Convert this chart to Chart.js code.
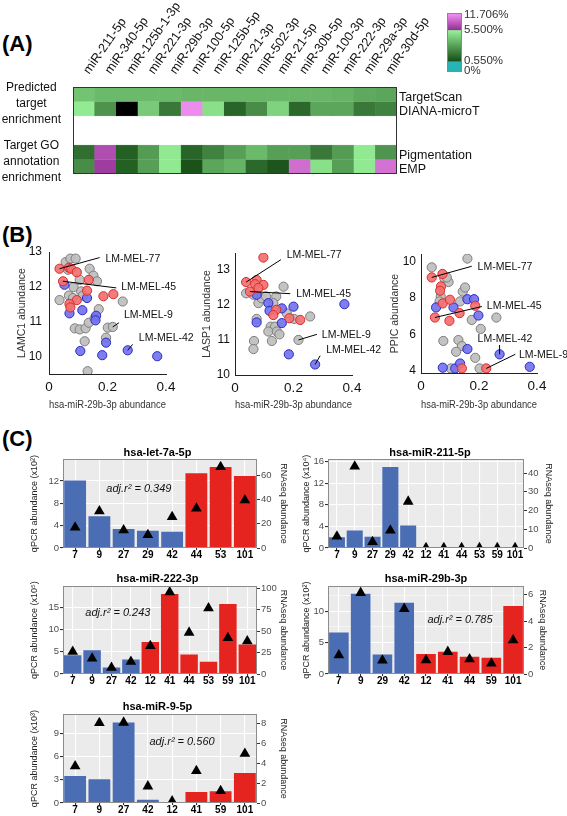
<!DOCTYPE html>
<html><head><meta charset="utf-8"><title>miRNA figure</title>
<script src="https://cdn.jsdelivr.net/npm/chart.js@4.4.1/dist/chart.umd.min.js"></script>
<style>
html,body{margin:0;padding:0;background:#fff;}
body{width:567px;height:816px;position:relative;overflow:hidden;font-family:"Liberation Sans",Arial,Helvetica,sans-serif;}
.panel{position:absolute;left:2px;font-weight:bold;font-size:22px;line-height:25px;color:#000;}
canvas{position:absolute;}
</style></head><body>
<div class="panel" style="top:31px">(A)</div>
<div class="panel" style="top:222px">(B)</div>
<div class="panel" style="top:426px">(C)</div>
<script>
const FF = '"Liberation Sans", Arial, Helvetica, sans-serif';
Chart.defaults.font.family = FF;
Chart.defaults.color = '#222';
Chart.defaults.animation = false;
Chart.defaults.plugins.legend.display = false;
Chart.defaults.plugins.tooltip.enabled = false;

// ================= DATA =================
// ---- Panel A: enrichment heatmap (percent) ----
const mirNames = ['miR-211-5p','miR-340-5p','miR-125b-1-3p','miR-221-3p','miR-29b-3p','miR-100-5p','miR-125b-5p','miR-21-3p','miR-502-3p','miR-21-5p','miR-30b-5p','miR-100-3p','miR-222-3p','miR-29a-3p','miR-30d-5p'];
const targetScanPct   = [4.1,3.8,3.8,3.8,3.8,3.7,3.7,3.7,3.7,3.7,3.7,3.7,3.6,3.3,3.2];
const dianaPct        = [5.35,2.6,null,4.3,1.8,11.1,5.0,1.2,2.4,4.6,1.3,3.2,3.2,1.8,2.1];
const pigmentationPct = [1.5,7.2,1.0,2.9,5.3,1.2,2.1,3.0,3.8,3.0,3.0,1.8,2.9,5.3,2.7];
const empPct          = [2.4,6.1,1.0,3.0,5.3,0.6,3.2,3.6,1.3,0.7,9.2,5.0,3.0,5.3,9.5];
const heatRowNames = ['TargetScan','DIANA-microT','Pigmentation','EMP'];
const heatGroupNames = [['Predicted','target','enrichment'],['Target GO','annotation','enrichment']];
const colorbarTickLabels = ['0%','0.550%','5.500%','11.706%'];

// ---- Panel B: scatter [miR-29b-3p, gene] ----
const xTicksB = [0,0.2,0.4];
const xTitleB = 'hsa-miR-29b-3p abundance';
const lamc1Red  = [[0.036,12.52],[0.068,12.55],[0.076,12.52],[0.095,12.42],[0.048,12.16],[0.136,12.20],[0.130,11.89],[0.186,11.73],[0.220,11.79],[0.095,11.62],[0.070,11.51],[0.073,11.41]];
const lamc1Blue = [[0.053,12.06],[0.130,11.68],[0.070,11.24],[0.114,11.33],[0.161,11.17],[0.159,11.04],[0.195,10.40],[0.107,10.16],[0.182,10.04],[0.269,10.18],[0.370,10.01]];
const lamc1Gray = [[0.057,12.71],[0.073,12.81],[0.091,12.81],[0.036,11.62],[0.068,11.75],[0.082,11.68],[0.084,11.99],[0.110,11.87],[0.116,11.75],[0.139,12.52],[0.152,12.32],[0.164,12.16],[0.170,11.36],[0.088,10.81],[0.105,10.78],[0.125,10.81],[0.136,10.97],[0.156,11.10],[0.201,10.83],[0.218,10.85],[0.122,10.44],[0.195,10.54],[0.132,9.58],[0.252,11.58],[0.065,12.49],[0.105,12.20]];
const lamc1Ticks = [10,11,12,13];
const lasp1Red  = [[0.097,13.35],[0.038,12.65],[0.074,12.71],[0.069,12.59],[0.097,12.57],[0.051,12.38],[0.080,12.48],[0.141,11.86],[0.131,11.71],[0.186,11.62],[0.223,11.57]];
const lasp1Blue = [[0.074,12.29],[0.114,12.05],[0.118,11.83],[0.160,11.90],[0.200,11.95],[0.074,11.50],[0.160,11.48],[0.184,10.59],[0.274,10.30],[0.374,12.02]];
const lasp1Gray = [[0.038,12.33],[0.063,12.29],[0.080,12.05],[0.091,12.19],[0.106,12.24],[0.141,12.24],[0.166,12.52],[0.131,12.05],[0.074,11.60],[0.122,11.38],[0.137,11.38],[0.114,11.24],[0.143,11.24],[0.152,11.16],[0.126,10.97],[0.065,10.97],[0.063,10.74],[0.217,11.00],[0.177,11.76],[0.202,11.60],[0.257,11.67]];
const lasp1Ticks = [10,11,12,13];
const ppicRed  = [[0.037,9.12],[0.074,9.31],[0.069,8.63],[0.066,8.39],[0.075,7.70],[0.100,7.90],[0.048,6.93],[0.098,6.75],[0.133,7.17],[0.187,7.57],[0.141,4.15],[0.225,4.15]];
const ppicBlue = [[0.052,7.48],[0.112,7.48],[0.160,7.93],[0.183,7.93],[0.198,7.04],[0.160,5.21],[0.271,4.92],[0.075,4.19],[0.118,4.15],[0.135,4.42],[0.375,4.24]];
const ppicGray = [[0.037,9.67],[0.080,9.09],[0.095,8.87],[0.089,9.12],[0.144,8.35],[0.152,8.57],[0.160,10.15],[0.068,8.08],[0.064,7.81],[0.135,7.81],[0.175,6.80],[0.206,6.31],[0.260,6.93],[0.077,5.65],[0.129,5.70],[0.141,5.37],[0.121,5.06],[0.187,4.73],[0.103,4.15],[0.202,4.15]];
const ppicTicks = [4,6,8,10];

// ---- Panel C: qPCR bars + RNAseq triangles ----
const let7aSamples = ['7','9','27','29','42','44','53','101'];
const let7aGroup   = [0,0,0,0,0,1,1,1];
const let7aQpcr    = [12.1,5.7,3.4,3.1,2.9,13.4,14.5,12.9];
const let7aRnaseq  = [17,30.4,14.7,10.8,25.7,32.6,67,39.5];
const let7aQpcrTicks = [0,4,8,12];
const let7aRnaTicks  = [0,20,40,60];

const mir211Samples = ['7','9','27','29','42','12','41','44','53','59','101'];
const mir211Group   = [0,0,0,0,0,1,1,1,1,1,1];
const mir211Qpcr    = [2.0,3.25,2.1,15.0,4.15,0,0,0,0,0,0];
const mir211Rnaseq  = [6.2,43.5,3.2,9.4,24.8,0,0,0,0,0,0];
const mir211QpcrTicks = [0,4,8,12,16];
const mir211RnaTicks  = [0,10,20,30,40];

const mir222Samples = ['7','9','27','42','12','41','44','53','59','101'];
const mir222Group   = [0,0,0,0,1,1,1,1,1,1];
const mir222Qpcr    = [4.25,5.37,1.49,3.28,7.24,18.06,4.4,2.76,15.8,6.64];
const mir222Rnaseq  = [25.9,18.1,7.3,14.3,32.8,95.4,48.3,76.8,42.1,38.2];
const mir222QpcrTicks = [0,5,10,15];
const mir222RnaTicks  = [0,25,50,75,100];

const mir29bSamples = ['7','9','29','42','12','41','44','59','101'];
const mir29bGroup   = [0,0,0,0,1,1,1,1,1];
const mir29bQpcr    = [6.61,12.8,3.12,11.38,3.17,3.54,2.75,2.59,10.85];
const mir29bRnaseq  = [1.43,6.15,1.03,4.94,1.05,1.68,1.13,0.80,2.56];
const mir29bQpcrTicks = [0,5,10];
const mir29bRnaTicks  = [0,2,4,6];

const mir9Samples = ['7','9','27','42','12','41','59','101'];
const mir9Group   = [0,0,0,0,1,1,1,1];
const mir9Qpcr    = [3.5,3.07,10.43,0.43,0,1.43,1.52,3.9];
const mir9Rnaseq  = [3.7,8.07,8.1,1.68,0.17,3.23,1.21,4.97];
const mir9QpcrTicks = [0,3,6,9];
const mir9RnaTicks  = [0,2,4,6,8];

// ================= HELPERS =================
function mk(left, top, w, h){
  const c = document.createElement('canvas');
  c.width = w; c.height = h;
  c.style.left = left + 'px'; c.style.top = top + 'px';
  c.style.width = w + 'px'; c.style.height = h + 'px';
  document.body.appendChild(c);
  return c;
}
function mixc(a,b,t){ return 'rgb(' + a.map((v,i)=>Math.round(v+(b[i]-v)*t)).join(',') + ')'; }
const C_TEAL=[40,180,180], C_DG=[25,80,25], C_LG=[150,240,150], C_PU=[150,50,150], C_PK=[245,150,245];
function heatColor(v){
  if (v === null) return '#000';
  if (v < 0.55) return mixc(C_TEAL,C_TEAL,0);
  if (v <= 5.5) return mixc(C_DG, C_LG, (v-0.55)/4.95);
  return mixc(C_PU, C_PK, Math.min(1,(v-5.5)/6.206));
}
function framePlugin(bg, stroke){
  return {
    id:'frame',
    beforeDraw(c){ if(!bg) return; const a=c.chartArea, x=c.ctx; x.save(); x.fillStyle=bg; x.fillRect(a.left,a.top,a.right-a.left,a.bottom-a.top); x.restore(); },
    afterDatasetsDraw(c){ if(!stroke) return; const a=c.chartArea, x=c.ctx; x.save(); x.strokeStyle=stroke; x.lineWidth=1; x.strokeRect(Math.round(a.left)+0.5,Math.round(a.top)+0.5,Math.round(a.right-a.left)-1,Math.round(a.bottom-a.top)-1); x.restore(); }
  };
}
function notesPlugin(items, font, align){
  return {
    id:'notes',
    afterDatasetsDraw(c){
      const x=c.ctx, sx=c.scales.x, sy=c.scales.y;
      x.save(); x.strokeStyle='#000'; x.lineWidth=1; x.fillStyle='#111'; x.font=font;
      x.textBaseline='middle'; x.textAlign=align||'left';
      items.forEach(n=>{
        if (n.from){ x.beginPath(); x.moveTo(sx.getPixelForValue(n.from[0]), sy.getPixelForValue(n.from[1])); x.lineTo(sx.getPixelForValue(n.to[0]), sy.getPixelForValue(n.to[1])); x.stroke(); }
        x.fillText(n.text, sx.getPixelForValue(n.at[0]), sy.getPixelForValue(n.at[1]));
      });
      x.restore();
    }
  };
}
const NOGRID = {display:false, drawTicks:false};

// ================= PANEL A: heatmap =================
(function(){
  const cv = mk(0,0,520,192);
  const rows = [targetScanPct, dianaPct, pigmentationPct, empPct];
  const rowSpans = [[5,6],[4,5],[1,2],[0,1]];
  const rowTickPos = [5.3,4.3,1.3,0.3];
  const groupTickPos = [4.86,0.86];
  new Chart(cv, {
    type:'bar',
    data:{ labels: mirNames, datasets: rows.map((vals,r)=>({
      data: vals.map(()=>rowSpans[r]),
      backgroundColor: vals.map(heatColor), borderColor: vals.map(heatColor),
      borderWidth:0.5, borderSkipped:false, grouped:false, barPercentage:1, categoryPercentage:1, yAxisID:'y'
    })) },
    options:{
      responsive:false, devicePixelRatio:1,
      layout:{padding:{left:0,right:0,top:0,bottom:18}},
      scales:{
        x:{ position:'top', grid:NOGRID, border:{display:false},
            ticks:{autoSkip:false, minRotation:55, maxRotation:55, font:{size:12.6}, color:'#111', padding:10, labelOffset:15},
            afterFit(s){ s.height=87; s.paddingLeft=0; s.paddingRight=0; } },
        y:{ position:'left', min:0, max:6, grid:NOGRID, border:{display:false},
            afterBuildTicks(s){ s.ticks=groupTickPos.map(v=>({value:v})); },
            ticks:{ callback:(v)=> heatGroupNames[groupTickPos.indexOf(v)], crossAlign:'center', font:{size:12, lineHeight:1.35}, color:'#111', padding:12 },
            afterFit(s){ s.width=73; s.paddingTop=0; s.paddingBottom=0; } },
        y2:{ position:'right', min:0, max:6, grid:NOGRID, border:{display:false},
            afterBuildTicks(s){ s.ticks=rowTickPos.map(v=>({value:v})); },
            ticks:{ callback:(v)=> heatRowNames[rowTickPos.indexOf(v)], font:{size:12.5}, color:'#111', padding:2 },
            afterFit(s){ s.width=123; s.paddingTop=0; s.paddingBottom=0; } }
      }
    },
    plugins:[framePlugin(null,'#333')]
  });
})();

// ---- colour bar ----
(function(){
  const cv = mk(440,0,127,80);
  const tickPos = [1,11,42,57];
  new Chart(cv, {
    type:'bar',
    data:{ labels:[''], datasets:[{ data:[[0,59]], barPercentage:1, categoryPercentage:1, borderWidth:0,
      backgroundColor(ctx){
        const ch = ctx.chart, a = ch.chartArea; if(!a) return '#888';
        const g = ch.ctx.createLinearGradient(0,a.bottom,0,a.top);
        g.addColorStop(0, mixc(C_TEAL,C_TEAL,0)); g.addColorStop(0.17, mixc(C_TEAL,C_TEAL,0));
        g.addColorStop(0.19, mixc(C_DG,C_DG,0)); g.addColorStop(0.70, mixc(C_LG,C_LG,0));
        g.addColorStop(0.72, mixc(C_PU,C_PU,0)); g.addColorStop(1, mixc(C_PK,C_PK,0));
        return g;
      } }] },
    options:{
      responsive:false, devicePixelRatio:1,
      layout:{padding:{left:7,right:0,top:13,bottom:8}},
      scales:{
        x:{display:false},
        y:{display:false, min:0, max:59},
        y2:{ position:'right', min:0, max:59, grid:NOGRID, border:{display:false},
             afterBuildTicks(s){ s.ticks=tickPos.map(v=>({value:v})); },
             ticks:{ callback:(v)=> colorbarTickLabels[tickPos.indexOf(v)], font:{size:11.5}, color:'#333', padding:2 },
             afterFit(s){ s.width=105; s.paddingTop=0; s.paddingBottom=0; } }
      }
    },
    plugins:[framePlugin(null,'#888')]
  });
})();

// ================= PANEL B: scatters =================
function makeScatter(o){
  const cv = mk(o.left,240,o.w,174);
  const ds = (pts, fill, stroke) => ({ data: pts.map(p=>({x:p[0],y:p[1]})), pointRadius:4.6, pointBackgroundColor:fill, pointBorderColor:stroke, pointBorderWidth:1 });
  new Chart(cv, {
    type:'scatter',
    data:{ datasets:[ ds(o.red,'rgba(242,112,112,0.92)','#d92b2b'), ds(o.blue,'rgba(115,115,235,0.92)','#2a2ac8'), ds(o.gray,'rgba(192,192,192,0.95)','#7d7d7d') ] },
    options:{
      responsive:false, devicePixelRatio:1,
      layout:{padding:{left:0,right:o.pr,top:o.pt,bottom:0}},
      scales:{
        x:{ type:'linear', min:0, max:0.4, afterBuildTicks(s){ s.ticks=xTicksB.map(v=>({value:v})); },
            grid:NOGRID, border:{display:true,color:'#222',width:1},
            ticks:{font:{size:13.5}, color:'#111', padding:5, callback:v=>String(v)},
            title:{display:true, text:xTitleB, font:{size:10.2}, color:'#333', padding:{top:0,bottom:2.5}},
            afterFit(s){ s.height=o.xh; s.paddingLeft=0; s.paddingRight=0; } },
        y:{ type:'linear', min:o.ymin, max:o.ymax, afterBuildTicks(s){ s.ticks=o.yTicks.map(v=>({value:v})); },
            grid:NOGRID, border:{display:true,color:'#222',width:1},
            ticks:{font:{size:12}, color:'#111', padding:o.tp},
            title:{display:true, text:o.yTitle, font:{size:10.5}, color:'#333', padding:{top:o.ttp,bottom:0}},
            afterFit(s){ s.width=o.yw; s.paddingTop=0; s.paddingBottom=0; } }
      }
    },
    plugins:[notesPlugin(o.notes, '10.5px '+FF, 'left')]
  });
}
makeScatter({ left:0, w:200, pr:34, pt:12, xh:40, yw:49, tp:7, ttp:15.7, ymin:9.5, ymax:13, yTicks:lamc1Ticks, yTitle:'LAMC1 abundance',
  red:lamc1Red, blue:lamc1Blue, gray:lamc1Gray,
  notes:[ {text:'LM-MEL-77', from:[0.036,12.52], to:[0.173,12.84], at:[0.193,12.81]},
          {text:'LM-MEL-45', from:[0.048,12.16], to:[0.230,11.97], at:[0.247,11.99]},
          {text:'LM-MEL-9',  from:[0.218,10.85], to:[0.239,10.97], at:[0.256,11.20]},
          {text:'LM-MEL-42', from:[0.269,10.18], to:[0.286,10.35], at:[0.307,10.54]} ] });
makeScatter({ left:190, w:195, pr:33, pt:13, xh:39, yw:45, tp:5, ttp:10.7, ymin:10, ymax:13.48, yTicks:lasp1Ticks, yTitle:'LASP1 abundance',
  red:lasp1Red, blue:lasp1Blue, gray:lasp1Gray,
  notes:[ {text:'LM-MEL-77', from:[0.038,12.65], to:[0.157,13.29], at:[0.177,13.43]},
          {text:'LM-MEL-45', from:[0.051,12.38], to:[0.189,12.32], at:[0.209,12.31]},
          {text:'LM-MEL-9',  from:[0.217,11.00], to:[0.280,11.16], at:[0.297,11.14]},
          {text:'LM-MEL-42', from:[0.274,10.30], to:[0.291,10.55], at:[0.312,10.70]} ] });
makeScatter({ left:380, w:187, pr:30, pt:14, xh:41, yw:41, tp:5, ttp:8.7, ymin:3.9, ymax:10.4, yTicks:ppicTicks, yTitle:'PPIC abundance',
  red:ppicRed, blue:ppicBlue, gray:ppicGray,
  notes:[ {text:'LM-MEL-77', from:[0.037,9.12], to:[0.175,9.73], at:[0.195,9.69]},
          {text:'LM-MEL-45', from:[0.048,6.93], to:[0.210,7.53], at:[0.227,7.53]},
          {text:'LM-MEL-42', from:[0.271,4.92], to:[0.271,5.43], at:[0.195,5.76]},
          {text:'LM-MEL-9',  from:[0.225,4.15], to:[0.325,4.92], at:[0.338,4.88]} ] });

// ================= PANEL C: bar charts =================
const BLUE = '#4a6db3', RED = '#e5231f';
function makeBar(o){
  const cv = mk(o.left,o.top,o.w,o.h);
  const majors = o.lTicks, step = majors[1]-majors[0];
  const lt = [];
  majors.forEach(v=>{ lt.push(v); const m=v+step/2; if (m < o.lMax) lt.push(m); });
  const majorSet = new Set(majors);
  const isMajor = c => c.tick && majorSet.has(c.tick.value);
  new Chart(cv, {
    data:{ labels:o.cats, datasets:[
      { type:'line', data:o.rna, yAxisID:'y1', showLine:false, pointStyle:'triangle', pointRadius:6.2,
        pointBackgroundColor:'#000', pointBorderColor:'#000', pointBorderWidth:0 },
      { type:'bar', data:o.qpcr, yAxisID:'y', backgroundColor:o.group.map(g=>g===0?BLUE:RED),
        barPercentage:0.9, categoryPercentage:1, borderWidth:0 }
    ]},
    options:{
      responsive:false, devicePixelRatio:1,
      layout:{padding:{left:0,right:o.pr,top:0,bottom:0}},
      plugins:{ title:{display:true, text:o.title, font:{size:11,weight:'bold'}, color:'#000', padding:{top:5,bottom:o.tpb}} },
      scales:{
        x:{ grid:{color:'#fff', lineWidth:1.1, offset:false, tickLength:2, tickColor:'#333'}, border:{display:false},
            ticks:{font:{size:10,weight:'bold',lineHeight:1}, color:'#000', padding:0, autoSkip:false, maxRotation:0},
            afterFit(s){ s.height=16; s.paddingLeft=0; s.paddingRight=0; } },
        y:{ position:'left', min:0, max:o.lMax, afterBuildTicks(s){ s.ticks=lt.map(v=>({value:v})); },
            grid:{color:'#fff', lineWidth:c=>isMajor(c)?1.1:0.5, tickLength:3, tickColor:c=>isMajor(c)?'#333':'rgba(0,0,0,0)'},
            border:{display:false},
            ticks:{font:{size:9.5}, color:'#4d4d4d', padding:1, callback:v=>majorSet.has(v)?String(v):''},
            title:{display:true, text:o.yTitle, font:{size:9}, color:'#222', padding:{top:o.ltp,bottom:0}},
            afterFit(s){ s.width=o.lw; s.paddingTop=0; s.paddingBottom=0; } },
        y1:{ position:'right', min:0, max:o.rMax, afterBuildTicks(s){ s.ticks=o.rTicks.map(v=>({value:v})); },
            grid:{drawOnChartArea:false, tickLength:3, tickColor:'#333'}, border:{display:false},
            ticks:{font:{size:9.5}, color:'#4d4d4d', padding:1},
            title:{display:true, text:'RNAseq abundance', font:{size:9}, color:'#222', padding:{top:o.rtp,bottom:0}},
            afterFit(s){ s.width=o.rw; s.paddingTop=0; s.paddingBottom=0; } }
      }
    },
    plugins:[framePlugin('#ebebeb','#8c8c8c'), notesPlugin([{text:o.r2, at:o.r2at}], 'italic 11px '+FF, 'center')]
  });
}
makeBar({ left:20, top:441, w:292, h:123, lw:43, rw:38, pr:17, tpb:0, ltp:9.6, rtp:6.6, lMax:15.9, rMax:73.3,
  title:'hsa-let-7a-5p', cats:let7aSamples, group:let7aGroup, qpcr:let7aQpcr, rna:let7aRnaseq,
  lTicks:let7aQpcrTicks, rTicks:let7aRnaTicks, yTitle:'qPCR abundance (x10²)', r2:'adj.r² = 0.349', r2at:[2.63,10.6] });
makeBar({ left:298, top:441, w:268, h:123, lw:30, rw:38, pr:4, tpb:0, ltp:3.6, rtp:8.6, lMax:16.43, rMax:47.4,
  title:'hsa-miR-211-5p', cats:mir211Samples, group:mir211Group, qpcr:mir211Qpcr, rna:mir211Rnaseq,
  lTicks:mir211QpcrTicks, rTicks:mir211RnaTicks, yTitle:'qPCR abundance (x10⁴)', r2:'', r2at:[0,0] });
makeBar({ left:20, top:567, w:300, h:123, lw:43, rw:38, pr:25, tpb:1, ltp:9.6, rtp:6.6, lMax:19.8, rMax:102.3,
  title:'hsa-miR-222-3p', cats:mir222Samples, group:mir222Group, qpcr:mir222Qpcr, rna:mir222Rnaseq,
  lTicks:mir222QpcrTicks, rTicks:mir222RnaTicks, yTitle:'qPCR abundance (x10⁵)', r2:'adj.r² = 0.243', r2at:[2.33,13.7] });
makeBar({ left:298, top:567, w:264, h:123, lw:30, rw:30, pr:8, tpb:1, ltp:3.6, rtp:6.6, lMax:14.0, rMax:6.65,
  title:'hsa-miR-29b-3p', cats:mir29bSamples, group:mir29bGroup, qpcr:mir29bQpcr, rna:mir29bRnaseq,
  lTicks:mir29bQpcrTicks, rTicks:mir29bRnaTicks, yTitle:'qPCR abundance (x10²)', r2:'adj.r² = 0.785', r2at:[5.56,8.6] });
makeBar({ left:20, top:695, w:294, h:124, lw:43, rw:38, pr:19, tpb:1, ltp:9.6, rtp:6.6, lMax:11.5, rMax:8.94,
  title:'hsa-miR-9-5p', cats:mir9Samples, group:mir9Group, qpcr:mir9Qpcr, rna:mir9Rnaseq,
  lTicks:mir9QpcrTicks, rTicks:mir9RnaTicks, yTitle:'qPCR abundance (x10³)', r2:'adj.r² = 0.560', r2at:[4.41,7.9] });
</script>
</body></html>
